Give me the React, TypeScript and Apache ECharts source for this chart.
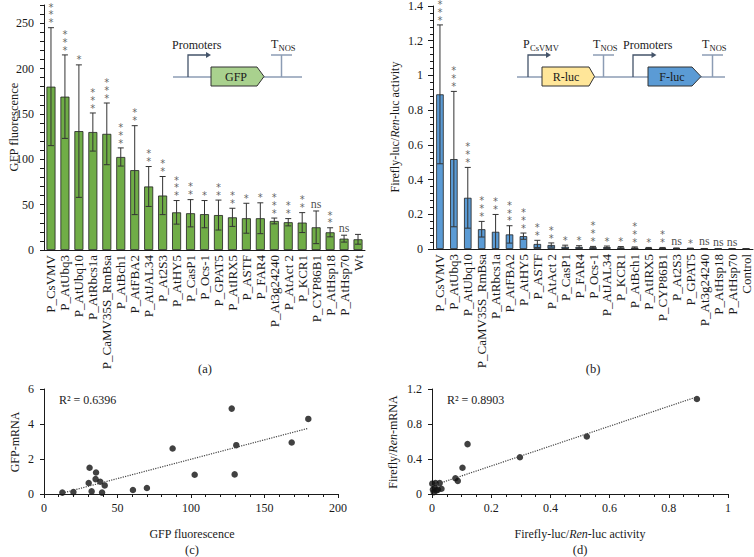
import React, { useEffect, useRef } from "react";
import * as echarts from "echarts";

const FONT = "'Liberation Serif', 'Times New Roman', serif";

// Panel (a): GFP fluorescence per promoter
const catsA = [
  "P_CsVMV", "P_AtUbq3", "P_AtUbq10", "P_AtRbcs1a", "P_CaMV35S_RmBsa", "P_AtBch1",
  "P_AtFBA2", "P_AtJAL34", "P_At2S3", "P_AtHY5", "P_CasP1", "P_Ocs-1", "P_GPAT5",
  "P_AtIRX5", "P_ASTF", "P_FAR4", "P_At3g24240", "P_AtAct 2", "P_KCR1", "P_CYP86B1",
  "P_AtHsp18", "P_AtHsp70", "Wt",
];
const meansA = [180, 169, 131, 130, 128, 102.5, 88, 70, 60, 41.5, 40.5, 39.5, 38.5, 36, 35, 35, 32, 30.6, 30.2, 25, 19.5, 12.5, 11.8];
const errsA = [65, 46, 73, 21, 34, 10, 49, 22, 21, 13, 15, 15, 16.5, 10, 16.5, 17, 3.2, 4, 11, 18, 5, 3.8, 5.4];
const sigA = ["***", "***", "*", "***", "***", "***", "**", "**", "**", "***", "**", "*", "**", "**", "*", "*", "***", "**", "**", "ns", "**", "ns", ""];

// Panel (b): Firefly-luc / Ren-luc activity per promoter
const catsB = [
  "P_CsVMV", "P_AtUbq3", "P_AtUbq10", "P_CaMV35S_RmBsa", "P_AtRbcs1a", "P_AtFBA2",
  "P_AtHY5", "P_ASTF", "P_AtAct 2", "P_CasP1", "P_FAR4", "P_Ocs-1", "P_AtJAL34",
  "P_KCR1", "P_AtBch1", "P_AtIRX5", "P_CYP86B1", "P_At2S3", "P_GPAT5", "P_At3g24240",
  "P_AtHsp18", "P_AtHsp70", "Control",
];
const meansB = [0.891, 0.518, 0.295, 0.114, 0.099, 0.084, 0.074, 0.029, 0.023, 0.013, 0.012, 0.01, 0.011, 0.009, 0.008, 0.006, 0.006, 0.004, 0.003, 0.002, 0.001, 0.001, 0.001];
const errsB = [0.4, 0.39, 0.175, 0.045, 0.1, 0.05, 0.018, 0.021, 0.012, 0.009, 0.007, 0.005, 0.006, 0.005, 0.004, 0.003, 0.003, 0.002, 0.002, 0.001, 0.001, 0.001, 0.001];
const sigB = ["***", "***", "***", "***", "**", "***", "***", "**", "**", "*", "*", "***", "*", "*", "***", "*", "**", "ns", "*", "ns", "ns", "ns", ""];

// Panel (c): GFP fluorescence vs GFP-mRNA
const gfpFluor = [12.5, 20, 30.4, 31, 32.4, 35.4, 35.1, 38.3, 39.5, 41.3, 60.5, 70, 87.5, 102.5, 127.7, 129.7, 130.8, 168.5, 179.8];
const gfpMrna = [0.08, 0.11, 0.63, 1.5, 0.15, 1.23, 0.85, 0.7, 0.08, 0.49, 0.23, 0.34, 2.6, 1.1, 4.88, 1.12, 2.79, 2.94, 4.29];

// Panel (d): Firefly-luc/Ren-luc activity vs Firefly/Ren-mRNA
const lucAct = [0.895, 0.523, 0.297, 0.12, 0.103, 0.079, 0.087, 0.032, 0.026, 0.012, 0.001, 0.003, 0.009, 0.015, 0.006, 0.02];
const lucMrna = [1.086, 0.657, 0.42, 0.57, 0.3, 0.18, 0.15, 0.06, 0.125, 0.125, 0.118, 0.05, 0.07, 0.04, 0.02, 0.05];

const r2C = "R\u00b2 = 0.6396";
const r2D = "R\u00b2 = 0.8903";

function regressionLine(xs: number[], ys: number[]) {
  const n = xs.length;
  const mx = xs.reduce((a, b) => a + b, 0) / n;
  const my = ys.reduce((a, b) => a + b, 0) / n;
  let sxy = 0, sxx = 0;
  for (let i = 0; i < n; i++) {
    sxy += (xs[i] - mx) * (ys[i] - my);
    sxx += (xs[i] - mx) ** 2;
  }
  const b = sxy / sxx;
  const a = my - b * mx;
  const x0 = Math.min(...xs), x1 = Math.max(...xs);
  return [[x0, a + b * x0], [x1, a + b * x1]];
}

const errRender = (params: any, api: any) => {
  const x = api.value(0);
  const top = api.coord([x, api.value(2)]);
  const bot = api.coord([x, api.value(1)]);
  const w = 3;
  const st = { stroke: "#333", lineWidth: 1 };
  return {
    type: "group",
    children: [
      { type: "line", shape: { x1: top[0], y1: top[1], x2: bot[0], y2: bot[1] }, style: st },
      { type: "line", shape: { x1: top[0] - w, y1: top[1], x2: top[0] + w, y2: top[1] }, style: st },
      { type: "line", shape: { x1: bot[0] - w, y1: bot[1], x2: bot[0] + w, y2: bot[1] }, style: st },
    ],
  };
};

const txt = (text: string, x: number, y: number, size: number, extra: any = {}) => ({
  type: "text",
  x,
  y,
  rotation: extra.rotation || 0,
  style: {
    text,
    fill: "#1a1a1a",
    fontSize: size,
    fontFamily: FONT,
    align: extra.align || "center",
    verticalAlign: "middle",
    rich: extra.rich,
  },
});

const BACK = "#8c9cb4";
const ARROW = "#44546a";

const hline = (x1: number, y1: number, x2: number, y2: number, color = BACK, w = 1.5) => ({
  type: "line",
  shape: { x1, y1, x2, y2 },
  style: { stroke: color, lineWidth: w },
});

const promoterArrow = (x: number, xEnd: number) => [
  { type: "polyline", shape: { points: [[x, 77], [x, 55], [xEnd - 4, 55]] }, style: { stroke: ARROW, lineWidth: 1.3, fill: null } },
  { type: "polygon", shape: { points: [[xEnd - 5, 52], [xEnd, 55], [xEnd - 5, 58]] }, style: { fill: ARROW } },
];

const geneBox = (x0: number, x1: number, tip: number, fill: string, label: string, cx: number) => [
  {
    type: "polygon",
    shape: { points: [[x0, 67], [x1, 67], [tip, 76.5], [x1, 86], [x0, 86]] },
    style: { fill, stroke: "#333", lineWidth: 1 },
  },
  txt(label, cx, 76.5, 12),
];

const tnos = (x: number) => [
  txt("T", x, 44, 12, { align: "left" }),
  txt("NOS", x + 7.5, 47.5, 8.5, { align: "left" }),
  hline(x, 55, x + 21, 55),
  hline(x + 10.5, 55, x + 10.5, 77),
];

const italicRich = { i: { fontStyle: "italic", fontSize: 12, fontFamily: FONT, fill: "#1a1a1a" } };

export default function App() {
  const ref = useRef<HTMLDivElement>(null);
  useEffect(() => {
    if (!ref.current) return;
    const chart = echarts.init(ref.current, undefined, { renderer: "svg" });

    const axisLine = { lineStyle: { color: "#1a1a1a", width: 1 } };
    const lbl = { fontFamily: FONT, fontSize: 12, color: "#1a1a1a" };

    const catAxis = (gridIndex: number, data: string[]) => ({
      type: "category",
      gridIndex,
      data,
      axisLine,
      axisTick: { alignWithLabel: true, length: 4, lineStyle: { color: "#1a1a1a" } },
      axisLabel: { ...lbl, fontSize: 13, rotate: 90, interval: 0, margin: 5 },
    });

    const errData = (means: number[], errs: number[]) =>
      means.map((m, i) => [i, Math.max(0, m - errs[i]), m + errs[i]]);
    const sigData = (means: number[], errs: number[], sig: string[]) =>
      means.map((m, i) => ({ value: [i, m + errs[i]], sig: sig[i] }));
    const sigLabel = {
      show: true,
      position: "top",
      distance: 1,
      formatter: (p: any) =>
        p.data.sig === "ns" ? "{n|ns}" : p.data.sig.split("").map(() => "{s|*}").join("\n"),
      rich: {
        s: { fontFamily: "'DejaVu Sans', sans-serif", fontSize: 10, lineHeight: 7.8, color: "#3a3a3a" },
        n: { fontFamily: FONT, fontSize: 12, lineHeight: 12, color: "#222" },
      },
    };

    const option: any = {
      animation: false,
      grid: [
        { left: 44, top: 5, width: 321, height: 245 },
        { left: 433, top: 4, width: 320, height: 245 },
        { left: 44, top: 389, width: 294, height: 105 },
        { left: 432, top: 389, width: 296, height: 105 },
      ],
      xAxis: [
        catAxis(0, catsA),
        catAxis(1, catsB),
        {
          type: "value", gridIndex: 2, min: 0, max: 200, interval: 50,
          axisLine, axisTick: { length: 4, lineStyle: { color: "#1a1a1a" } },
          minorTick: { show: true, splitNumber: 5, length: 3, lineStyle: { color: "#1a1a1a" } },
          splitLine: { show: false }, axisLabel: { ...lbl, margin: 8 },
        },
        {
          type: "value", gridIndex: 3, min: 0, max: 1, interval: 0.2,
          axisLine, axisTick: { length: 4, lineStyle: { color: "#1a1a1a" } },
          minorTick: { show: true, splitNumber: 4, length: 3, lineStyle: { color: "#1a1a1a" } },
          splitLine: { show: false }, axisLabel: { ...lbl, margin: 8 },
        },
      ],
      yAxis: [
        {
          type: "value", gridIndex: 0, min: 0, max: 270, interval: 10,
          axisLine: { show: true, ...axisLine }, axisTick: { show: true, length: 4, lineStyle: { color: "#1a1a1a" } },
          splitLine: { show: false },
          axisLabel: { ...lbl, margin: 10, formatter: (v: number) => (v % 50 === 0 ? String(v) : "") },
        },
        {
          type: "value", gridIndex: 1, min: 0, max: 1.4, interval: 0.2,
          axisLine: { show: true, ...axisLine }, axisTick: { show: true, length: 5, lineStyle: { color: "#1a1a1a" } },
          minorTick: { show: true, splitNumber: 5, length: 3, lineStyle: { color: "#1a1a1a" } },
          splitLine: { show: false }, axisLabel: { ...lbl, margin: 10 },
        },
        {
          type: "value", gridIndex: 2, min: 0, max: 6, interval: 2,
          axisLine: { show: true, ...axisLine }, axisTick: { show: true, length: 4, lineStyle: { color: "#1a1a1a" } },
          splitLine: { show: false }, axisLabel: { ...lbl, margin: 10 },
        },
        {
          type: "value", gridIndex: 3, min: 0, max: 1.2, interval: 0.4,
          axisLine: { show: true, ...axisLine }, axisTick: { show: true, length: 4, lineStyle: { color: "#1a1a1a" } },
          splitLine: { show: false }, axisLabel: { ...lbl, margin: 10 },
        },
      ],
      series: [
        {
          type: "bar", xAxisIndex: 0, yAxisIndex: 0, data: meansA, barWidth: 9,
          itemStyle: { color: "#70ad47", borderColor: "#1f1f1f", borderWidth: 0.8 },
        },
        {
          type: "custom", xAxisIndex: 0, yAxisIndex: 0, data: errData(meansA, errsA),
          encode: { x: 0, y: [1, 2] }, renderItem: errRender, z: 3,
        },
        {
          type: "scatter", xAxisIndex: 0, yAxisIndex: 0, symbolSize: 0,
          itemStyle: { color: "#444" },
          data: sigData(meansA, errsA, sigA), label: sigLabel, z: 4,
        },
        {
          type: "bar", xAxisIndex: 1, yAxisIndex: 1, data: meansB, barWidth: 7.5,
          itemStyle: { color: "#5b9bd5", borderColor: "#1f1f1f", borderWidth: 0.8 },
        },
        {
          type: "custom", xAxisIndex: 1, yAxisIndex: 1, data: errData(meansB, errsB),
          encode: { x: 0, y: [1, 2] }, renderItem: errRender, z: 3,
        },
        {
          type: "scatter", xAxisIndex: 1, yAxisIndex: 1, symbolSize: 0,
          itemStyle: { color: "#444" },
          data: sigData(meansB, errsB, sigB), label: sigLabel, z: 4,
        },
        {
          type: "scatter", xAxisIndex: 2, yAxisIndex: 2, symbolSize: 6.5,
          itemStyle: { color: "#111" }, data: gfpFluor.map((x, i) => [x, gfpMrna[i]]),
        },
        {
          type: "line", xAxisIndex: 2, yAxisIndex: 2, symbol: "none",
          lineStyle: { type: "dotted", color: "#444", width: 1.2 },
          data: regressionLine(gfpFluor, gfpMrna),
        },
        {
          type: "scatter", xAxisIndex: 3, yAxisIndex: 3, symbolSize: 6.5,
          itemStyle: { color: "#111" }, data: lucAct.map((x, i) => [x, lucMrna[i]]),
        },
        {
          type: "line", xAxisIndex: 3, yAxisIndex: 3, symbol: "none",
          lineStyle: { type: "dotted", color: "#444", width: 1.2 },
          data: regressionLine(lucAct, lucMrna),
        },
      ],
      graphic: [
        // axis names
        txt("GFP fluorescence", 14, 127, 12.5, { rotation: Math.PI / 2 }),
        txt("Firefly-luc/{i|Ren}-luc activity", 395, 127, 12, { rotation: Math.PI / 2, rich: italicRich }),
        txt("GFP fluorescence", 192, 534, 12),
        txt("GFP-mRNA", 15, 442, 12, { rotation: Math.PI / 2 }),
        txt("Firefly-luc/{i|Ren}-luc activity", 580, 534, 12, { rich: italicRich }),
        txt("Firefly/{i|Ren}-mRNA", 393, 442, 12, { rotation: Math.PI / 2, rich: italicRich }),
        // panel labels
        txt("(a)", 205, 369, 12.5),
        txt("(b)", 593, 369, 12.5),
        txt("(c)", 192, 550, 12.5),
        txt("(d)", 580, 550, 12.5),
        // R^2
        txt(r2C, 59, 400, 12, { align: "left" }),
        txt(r2D, 447, 400, 12, { align: "left" }),
        // diagram (a)
        hline(173, 77, 302, 77),
        ...promoterArrow(188, 211),
        ...geneBox(211, 257, 264, "#a9d18e", "GFP", 236),
        txt("Promoters", 172, 45, 12, { align: "left" }),
        ...tnos(271),
        // diagram (b)
        hline(517, 77, 725, 77),
        ...promoterArrow(528, 551),
        txt("P", 523, 44, 12, { align: "left" }),
        txt("CsVMV", 530, 47.5, 8.5, { align: "left" }),
        ...geneBox(542, 589, 594.5, "#ffe699", "R-luc", 566),
        ...tnos(593),
        txt("Promoters", 623, 45, 12, { align: "left" }),
        ...promoterArrow(633, 656.5),
        ...geneBox(648, 692, 701, "#5b9bd5", "F-luc", 672),
        ...tnos(702),
      ],
    };
    chart.setOption(option);
    return () => chart.dispose();
  }, []);
  return <div ref={ref} style={{ position: "fixed", left: 0, top: 0, width: 754, height: 557, background: "#fff" }} />;
}
